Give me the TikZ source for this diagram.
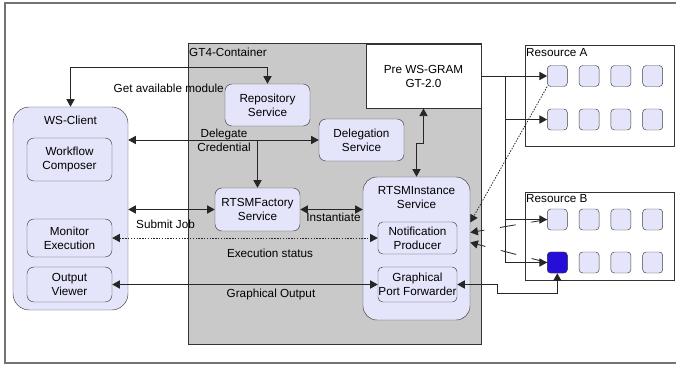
\documentclass[tikz,border=0pt]{standalone}
\usepackage{fontspec}
\setmainfont{Liberation Sans}
\usetikzlibrary{arrows.meta,calc}

\definecolor{lav}{RGB}{228,228,250}
\definecolor{boxgray}{RGB}{201,201,201}
\definecolor{jobblue}{RGB}{36,14,216}

\tikzset{
	svc/.style = {draw = black!75, fill = lav, rounded corners = 6pt, align = center, inner sep = 0pt, minimum width = 2.55cm, minimum height = 1.26cm},
	cpu/.style = {draw = black!75, fill = lav, rounded corners = 3pt, inner sep = 0pt, minimum width = 0.6cm, minimum height = 0.63cm},
	conn/.style = {draw = black!85, line width = 0.7pt, >={Triangle[length = 6.5pt, width = 7pt]}},
	lbl/.style = {inner sep = 0pt, align = center}
}

\begin{document}
\begin{tikzpicture}[x = 0.03cm, y = -0.03cm, font = \fontsize{10}{12}\selectfont]
\useasboundingbox (0,0) rectangle (676,365);

% frame and container
\draw[black!55, line width = 1.2pt] (677,3) -- (5,3) -- (5,363) -- (677,363);
\draw[fill = boxgray, draw = black!80] (188,43.5) rectangle (481,344);
\node[lbl, anchor = west] (gt4) at (189,52) {GT4-Container};
\node[draw = black!80, fill = white, align = center, inner sep = 0pt, minimum width = 3.45cm, minimum height = 1.935cm] (gram) at (423.5,76) {Pre WS-GRAM\\GT-2.0};

% client side
\node[svc, rounded corners = 14pt, minimum width = 3.45cm, minimum height = 6.09cm] (client) at (70.5,208.5) {};
\node[lbl] (clienttitle) at (70.5,120) {WS-Client};
\node[svc, minimum height = 1.29cm] (composer) at (69.5,159.5) {Workflow\\Composer};
\node[svc, minimum height = 1.14cm] (monitor) at (69.5,238) {Monitor\\Execution};
\node[svc, minimum height = 1.05cm] (viewer) at (69.5,284.5) {Output\\Viewer};

% services
\node[svc] (repo) at (267.5,105) {Repository\\Service};
\node[svc] (deleg) at (361.5,140) {Delegation\\Service};
\node[svc, minimum height = 1.29cm] (factory) at (257.5,209.5) {RTSMFactory\\Service};
\node[svc, rounded corners = 12pt, minimum width = 3.21cm, minimum height = 4.29cm] (inst) at (416.5,248.5) {};
\node[lbl] (insttitle) at (416.5,197) {RTSMInstance\\Service};
\node[svc, rounded corners = 4pt, minimum width = 2.37cm, minimum height = 0.96cm] (notif) at (417.5,238) {Notification\\Producer};
\node[svc, rounded corners = 4pt, minimum width = 2.37cm, minimum height = 1.05cm] (gpf) at (417.5,284.5) {Graphical\\Port Forwarder};

% resources
\node[draw = black!80, fill = white, inner sep = 0pt, minimum width = 4.47cm, minimum height = 3.03cm] (resA) at (599.5,95.5) {};
\node[draw = black!80, fill = white, inner sep = 0pt, minimum width = 4.47cm, minimum height = 2.64cm] (resB) at (599.5,236) {};
\node[lbl, anchor = west] (resAtitle) at (526,53) {Resource A};
\node[lbl, anchor = west] (resBtitle) at (526,199) {Resource B};
\foreach \r/\y in {a1/76, a2/119.5, b1/219.5, b2/262.5}
	\foreach \c in {1,...,4}
		\node[cpu] (\r\c) at ({525.5 + 31.8*\c}, \y) {};
\node[cpu, fill = jobblue] (job) at (b21) {};

% client <-> container
\draw[conn, <->] (client.north) -- ++(0,-39) -| (repo.north);
\node[lbl, anchor = east] (getlbl) at (224,88) {Get available module};
\draw[conn, <->] (client.east |- deleg.west) -- (deleg.west);
\draw[conn, ->] (factory.north |- deleg.west) -- (factory.north);
\node[lbl] (deleglbl) at (224,140) {Delegate\\Credential};
\draw[conn, <->] (client.east |- factory.west) -- (factory.west);
\node[lbl] (submitlbl) at (165.5,224) {Submit Job};
\draw[conn, <->] (factory.east) -- (factory.east -| inst.west);
\node[lbl] (instlbl) at (333.5,217) {Instantiate};
\draw[conn, <->, dash pattern = on 1.2pt off 1.2pt] (monitor.east) -- (notif.west);
\node[lbl] (statuslbl) at (270,253) {Execution status};
\draw[conn, <->] (viewer.east) -- (gpf.west);
\node[lbl] (outlbl) at (271,294) {Graphical Output};

% GRAM and resources
\draw[conn, <->] (gram.south) -- ++(0,35) -| (inst.north);
\coordinate (bus) at (505,76);
\draw[conn, ->] (gram.east) -- (a11.west);
\draw[conn, ->] (bus) |- (job.west);
\draw[conn, ->] (bus |- a21.west) -- (a21.west);
\draw[conn, ->] (bus |- b11.west) -- (b11.west);
\draw[conn, ->, dash pattern = on 1.2pt off 1.2pt] (a11.south west) -- ($(inst.east)+(0,-26)$);
\draw[conn, ->, dash pattern = on 13.6pt off 13.6pt] (b11.west) -- ($(inst.east)+(0,-16)$);
\draw[conn, ->, dash pattern = on 13.6pt off 13.6pt] (job.west) -- ($(inst.east)+(0,-6)$);
\draw[conn, <->] (gpf.east) -- ++(40,0) -- ++(0,9) -| (job.south);
\end{tikzpicture}
\end{document}
